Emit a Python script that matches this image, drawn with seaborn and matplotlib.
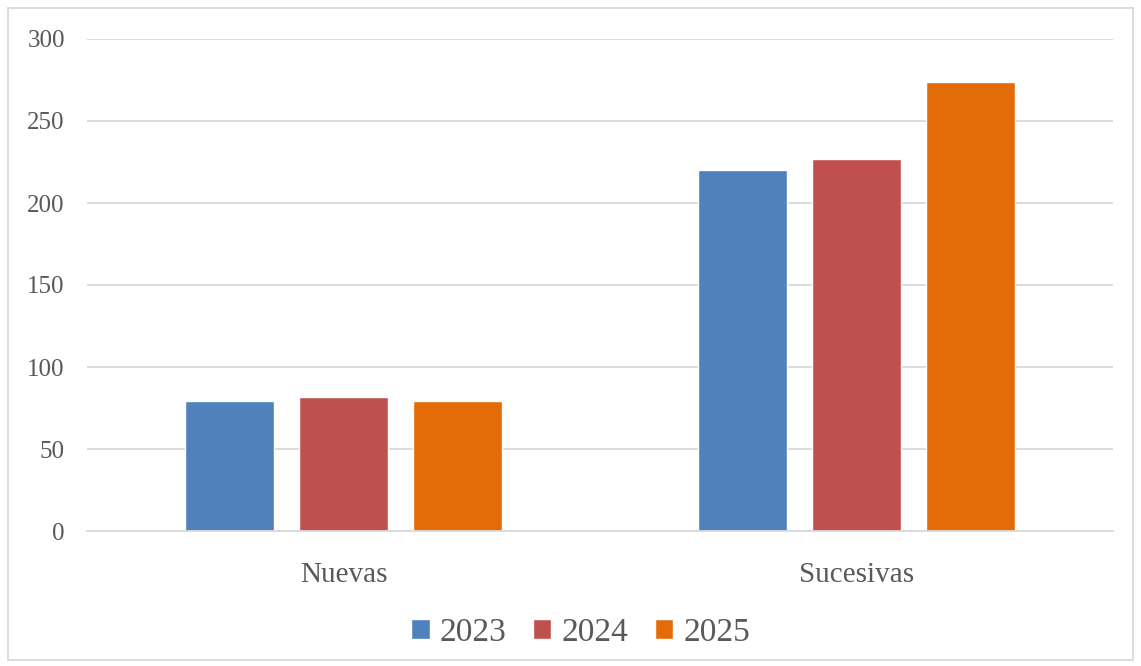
import seaborn as sns
import pandas as pd
import matplotlib.pyplot as plt
from matplotlib.patches import Rectangle

categorias = ['Nuevas', 'Sucesivas']
anios = ['2023', '2024', '2025']
valores_2023 = [79, 220]
valores_2024 = [82, 227]
valores_2025 = [79, 274]
colores = ['#4F81BD', '#C0504D', '#E36C09']

df = pd.DataFrame({
    'Tipo': categorias * 3,
    'Anio': [a for a in anios for _ in categorias],
    'Valor': valores_2023 + valores_2024 + valores_2025,
})

sns.set_style('white')
plt.rcParams['font.family'] = ['Liberation Serif', 'DejaVu Serif']

fig = plt.figure(figsize=(11.41, 6.66), dpi=100)
ax = fig.add_axes([87 / 1141, 1 - 531 / 666, (1113 - 87) / 1141, (531 - 39) / 666])

sns.barplot(data=df, x='Tipo', y='Valor', hue='Anio', palette=colores,
            width=0.664, gap=0.216, saturation=1, ax=ax, legend=True)

ax.set_ylim(0, 300)
ax.set_yticks(range(0, 301, 50))
ax.set_xlabel('')
ax.set_ylabel('')
ax.grid(axis='y', color='#D9D9D9', linewidth=1.3)
ax.set_axisbelow(True)
for s in ['left', 'right', 'top']:
    ax.spines[s].set_visible(False)
ax.spines['bottom'].set_color('#D9D9D9')
ax.spines['bottom'].set_linewidth(1.3)
ax.tick_params(axis='both', length=0, colors='#595959')
ax.tick_params(axis='y', labelsize=18, pad=16)
ax.tick_params(axis='x', labelsize=21, pad=22)

ax.legend(loc='upper center', bbox_to_anchor=(0.481, -0.115), ncol=3, frameon=False,
          fontsize=24, labelcolor='#595959', handlelength=0.55, handleheight=0.55,
          handletextpad=0.3, columnspacing=0.8)

# marco exterior
fig.patches.append(Rectangle((8 / 1141, 6 / 666), 1125 / 1141, 652 / 666,
                             transform=fig.transFigure, fill=False,
                             edgecolor='#D9D9D9', linewidth=1.3))

fig.savefig('out.png', dpi=100)
